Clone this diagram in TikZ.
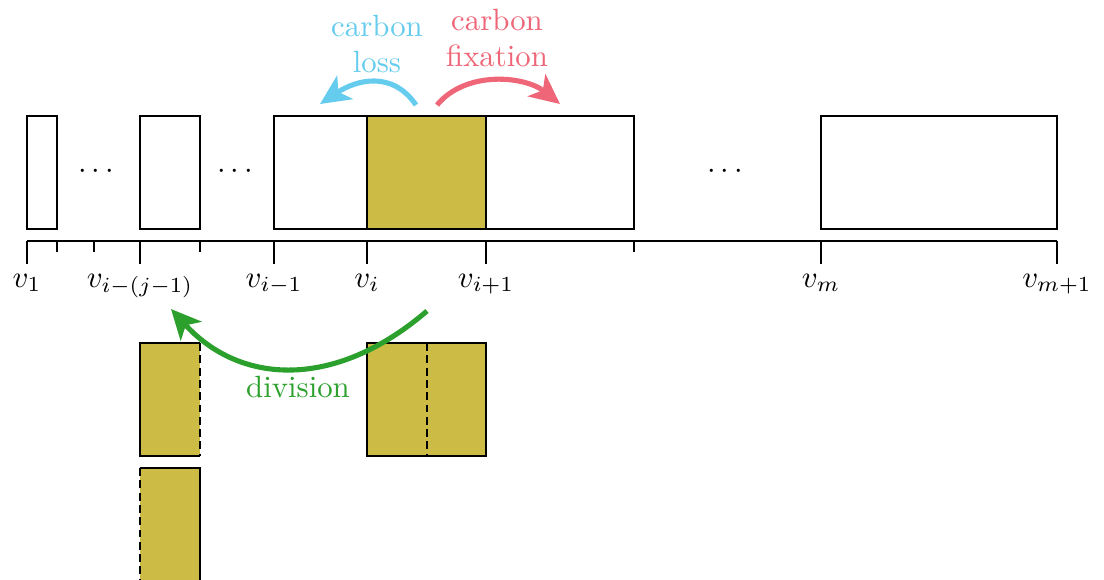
\documentclass[tikz,border=0pt]{standalone}
\usetikzlibrary{arrows.meta}

\definecolor{cellyellow}{RGB}{204,187,68}
\definecolor{losscyan}{RGB}{102,204,238}
\definecolor{fixred}{RGB}{238,102,119}
\definecolor{divgreen}{RGB}{44,160,44}

\tikzset{
	cell/.style={line width=1.1pt},
	cut/.style={line width=1.1pt, dash pattern=on 4.5pt off 2.5pt},
	tick/.style={line width=0.6pt},
	flux/.style={line width=2.9pt, -{Stealth[length=17pt, width=16pt, inset=4.5pt]}},
	lbl/.style={scale=1.75, align=center}
}

\begin{document}
\begin{tikzpicture}[x=0.2mm, y=-0.2mm]
		\useasboundingbox (0, 0) rectangle (1104, 579);
		
		% size classes
		\fill[cellyellow] (367, 116) rectangle (486, 229);
		\draw[cell] (27, 116) rectangle (57, 229);
		\draw[cell] (140, 116) rectangle (200, 229);
		\draw[cell] (274, 116) rectangle (634, 229);
		\draw[cell] (367, 116) -- (367, 229);
		\draw[cell] (486, 116) -- (486, 229);
		\draw[cell] (821, 116) rectangle (1057, 229);
		
		\node[lbl] (dotsa) at (96, 172) {$\cdots$};
		\node[lbl] (dotsb) at (235, 172) {$\cdots$};
		\node[lbl] (dotsc) at (725, 172) {$\cdots$};
		
		% size axis
		\draw[tick] (27, 241) -- (1057, 241);
		\foreach \x in {57, 94, 200, 634}
			\draw[tick] (\x, 241) -- (\x, 252);
		\foreach \x/\name/\txt in {27/v1/{v_1}, 140/vij/{v_{i-(j-1)}}, 274/vim/{v_{i-1}},
				367/vi/{v_i}, 486/vip/{v_{i+1}}, 821/vm/{v_m}, 1057/vmp/{v_{m+1}}} {
			\draw[tick] (\x, 241) -- (\x, 264);
			\node[lbl, anchor=base] (\name) at (\x, 287) {$\txt$};
		}
		
		% daughter cells
		\fill[cellyellow] (140, 343) rectangle (200, 456);
		\draw[cell] (200, 343) -- (140, 343) -- (140, 456) -- (200, 456);
		\draw[cut] (200, 343) -- (200, 456);
		
		\fill[cellyellow] (140, 468) rectangle (200, 600);
		\draw[cell] (140, 468) -- (200, 468) -- (200, 600);
		\draw[cut] (140, 468) -- (140, 600);
		
		\fill[cellyellow] (367, 343) rectangle (486, 456);
		\draw[cell] (367, 343) rectangle (486, 456);
		\draw[cut] (427, 343) -- (427, 456);
		
		% fluxes
		\coordinate (lossA) at (416, 105);
		\coordinate (lossB) at (320, 104);
		\coordinate (fixA) at (437, 105);
		\coordinate (fixB) at (560, 104);
		\coordinate (divA) at (427, 311);
		\coordinate (divB) at (171, 309);
		
		\draw[flux, losscyan] (lossA) .. controls (392, 70) and (356, 80) .. (lossB);
		\draw[flux, fixred] (fixA) .. controls (466, 70) and (525, 76) .. (fixB);
		\draw[flux, divgreen] (divA) .. controls (335, 390) and (240, 385) .. (divB);
		
		\node[lbl, text=losscyan] (loss) at (377, 44) {carbon\\loss};
		\node[lbl, text=fixred] (fix) at (497, 38) {carbon\\fixation};
		\node[lbl, text=divgreen, anchor=base] (div) at (298, 397) {division};
	\end{tikzpicture}
\end{document}
